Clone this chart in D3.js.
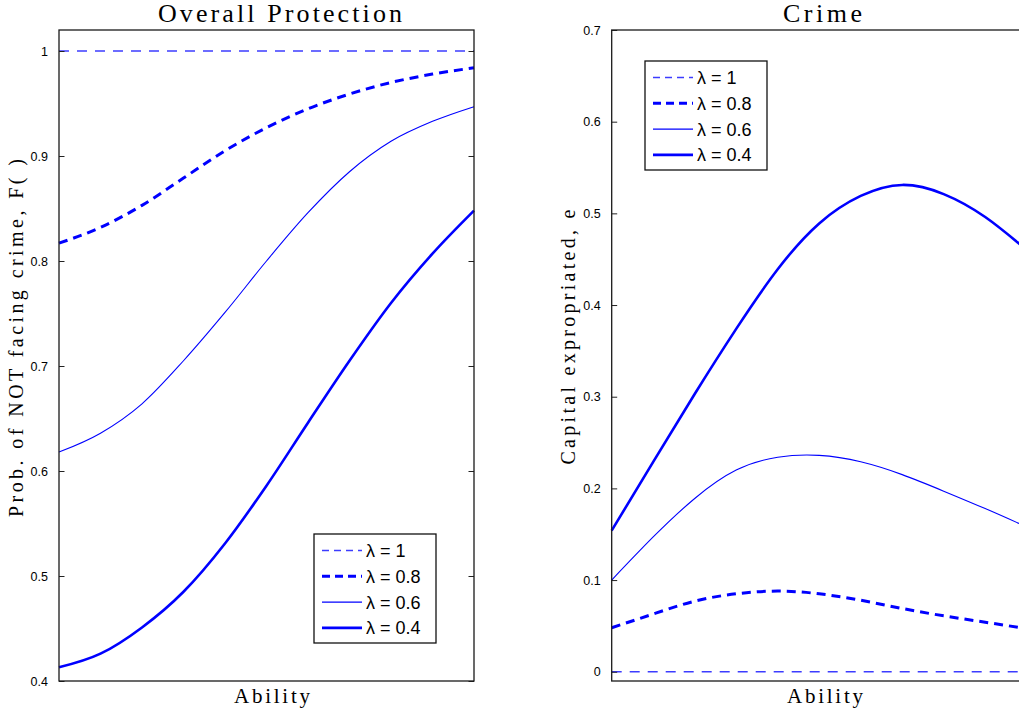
<!DOCTYPE html>
<meta charset="utf-8">
<script src="https://d3js.org/d3.v7.min.js"></script>
<style>
  body { margin: 0; background: #fff; }
  text { fill: #000; }
</style>
<div id="my_dataviz"></div>
<script>

// ability grid (x), shared by both panels
var ability = [0, 0.1, 0.2, 0.3, 0.4, 0.5, 0.6, 0.7, 0.8, 0.9, 1.0];

// Overall protection, F(), one array per lambda
var protect1  = [1, 1, 1, 1, 1, 1, 1, 1, 1, 1, 1];
var protect08 = [0.817, 0.832, 0.853, 0.879, 0.905, 0.927, 0.945, 0.959, 0.970, 0.978, 0.984];
var protect06 = [0.618, 0.636, 0.664, 0.705, 0.751, 0.800, 0.846, 0.885, 0.914, 0.933, 0.947];
var protect04 = [0.413, 0.426, 0.451, 0.485, 0.531, 0.586, 0.646, 0.705, 0.760, 0.807, 0.848];

// Capital expropriated, e
var crime1  = [0, 0, 0, 0, 0, 0, 0, 0, 0, 0, 0];
var crime08 = [0.048, 0.063, 0.077, 0.085, 0.088, 0.085, 0.078, 0.069, 0.061, 0.054, 0.047];
var crime06 = [0.100, 0.147, 0.189, 0.220, 0.234, 0.236, 0.229, 0.215, 0.197, 0.178, 0.158];
var crime04 = [0.154, 0.229, 0.303, 0.374, 0.439, 0.489, 0.519, 0.531, 0.521, 0.496, 0.460];

var legendLabels = ["\u03bb = 1", "\u03bb = 0.8", "\u03bb = 0.6", "\u03bb = 0.4"];
var protectTicks = [0.4, 0.5, 0.6, 0.7, 0.8, 0.9, 1];
var crimeTicks = [0, 0.1, 0.2, 0.3, 0.4, 0.5, 0.6, 0.7];

// line styles per lambda
var styles = [
  {dash: "10,8", w: 1.3, c: "#3c3cff"},
  {dash: "9,6", w: 3, c: "#0000ff"},
  {dash: null, w: 1.1, c: "#0000ff"},
  {dash: null, w: 2.6, c: "#0000ff"}
];

var svg = d3.select("#my_dataviz")
  .append("svg")
    .attr("width", 1019)
    .attr("height", 713);

function drawPanel(p) {
  var x = d3.scaleLinear().domain([0, 1]).range([p.x0, p.x1]);
  var y = d3.scaleLinear().domain(p.ydom).range([p.y1, p.y0]);

  var g = svg.append("g");

  // curves
  var line = d3.line()
    .x(function(d) { return x(d[0]); })
    .y(function(d) { return y(d[1]); })
    .curve(p.curve);

  p.series.forEach(function(s, i) {
    g.append("path")
      .datum(ability.map(function(a, j) { return [a, s[j]]; }))
      .attr("fill", "none")
      .attr("stroke", styles[i].c)
      .attr("stroke-width", styles[i].w)
      .attr("stroke-dasharray", styles[i].dash)
      .attr("d", line);
  });

  // left axis, ticks inward
  var left = g.append("g")
    .attr("transform", "translate(" + p.x0 + ",0)")
    .call(d3.axisLeft(y).tickValues(p.ticks).tickSize(-5.5).tickPadding(11)
      .tickFormat(function(d) { return d === 0 ? "0" : d === 1 ? "1" : d.toFixed(1); }));
  left.select(".domain").remove();
  left.selectAll("line").attr("stroke", "#222");
  left.selectAll("text")
    .attr("font-family", "Liberation Sans, Arial, sans-serif")
    .attr("font-size", 12.5)
    .attr("fill", "#111");

  // right side ticks (box on)
  var right = g.append("g")
    .attr("transform", "translate(" + p.x1 + ",0)")
    .call(d3.axisRight(y).tickValues(p.ticks).tickSize(-5.5).tickFormat(""));
  right.select(".domain").remove();
  right.selectAll("line").attr("stroke", "#222");

  // box
  g.append("rect")
    .attr("x", p.x0).attr("y", p.y0)
    .attr("width", p.x1 - p.x0).attr("height", p.y1 - p.y0)
    .attr("fill", "none")
    .attr("stroke", "#1a1a1a")
    .attr("stroke-width", 1.3);

  // title
  g.append("text")
    .attr("x", p.titleX).attr("y", 22)
    .attr("text-anchor", "middle")
    .attr("font-family", "Liberation Serif, serif")
    .attr("font-size", 26)
    .attr("textLength", p.titleLen)
    .attr("lengthAdjust", "spacing")
    .text(p.title);

  // x label
  g.append("text")
    .attr("x", p.abilityX).attr("y", 703)
    .attr("text-anchor", "middle")
    .attr("font-family", "Liberation Serif, serif")
    .attr("font-size", 21)
    .attr("textLength", 76)
    .attr("lengthAdjust", "spacing")
    .text("Ability");

  // y label
  g.append("text")
    .attr("transform", "translate(" + p.ylabX + "," + p.ylabY + ") rotate(-90)")
    .attr("text-anchor", "middle")
    .attr("font-family", "Liberation Serif, serif")
    .attr("font-size", 20)
    .attr("textLength", p.ylabLen)
    .attr("lengthAdjust", "spacing")
    .text(p.ylab);

  // legend
  var lg = g.append("g").attr("transform", "translate(" + p.lx + "," + p.ly + ")");
  lg.append("rect")
    .attr("width", 122).attr("height", 109)
    .attr("fill", "#fff")
    .attr("stroke", "#111")
    .attr("stroke-width", 1.3);
  legendLabels.forEach(function(lab, i) {
    var yy = 16.5 + i * 25.8;
    lg.append("line")
      .attr("x1", 8).attr("x2", 48)
      .attr("y1", yy).attr("y2", yy)
      .attr("stroke", styles[i].c)
      .attr("stroke-width", styles[i].w)
      .attr("stroke-dasharray", i === 0 ? "7,5" : i === 1 ? "8,5" : null);
    lg.append("text")
      .attr("x", 52).attr("y", yy + 6.5)
      .attr("font-family", "Liberation Sans, Arial, sans-serif")
      .attr("font-size", 18)
      .text(lab);
  });
}

drawPanel({
  x0: 59, x1: 474, y0: 30, y1: 681, ydom: [0.4, 1.02],
  series: [protect1, protect08, protect06, protect04],
  ticks: protectTicks, curve: d3.curveMonotoneX,
  title: "Overall Protection", titleX: 280, titleLen: 244,
  abilityX: 272,
  ylab: "Prob. of NOT facing crime, F(  )", ylabX: 23, ylabY: 338, ylabLen: 358,
  lx: 314, ly: 534
});

drawPanel({
  x0: 611.7, x1: 1026.7, y0: 30, y1: 681, ydom: [-0.0101, 0.7],
  series: [crime1, crime08, crime06, crime04],
  ticks: crimeTicks, curve: d3.curveNatural,
  title: "Crime", titleX: 822.5, titleLen: 79,
  abilityX: 825,
  ylab: "Capital expropriated, e", ylabX: 575, ylabY: 337, ylabLen: 255,
  lx: 645, ly: 61
});

</script>
